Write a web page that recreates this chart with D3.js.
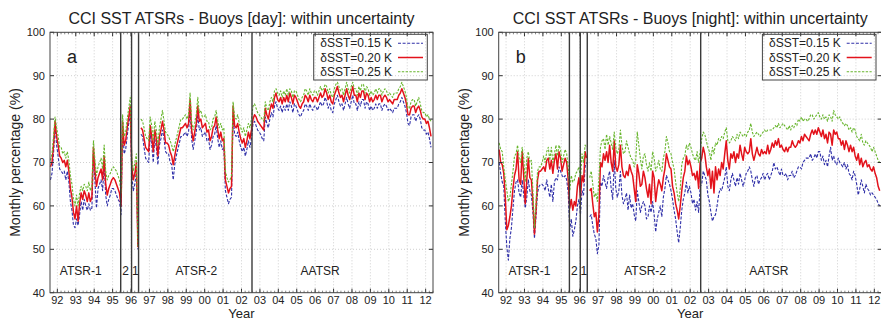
<!DOCTYPE html>
<html>
<head>
<meta charset="utf-8">
<script src="https://cdn.jsdelivr.net/npm/d3@7"></script>
<style>
  body { margin: 0; background: #fff; }
  text { font-family: "Liberation Sans", Arial, sans-serif; fill: #222; }
</style>
</head>
<body>
<svg id="chart" width="881" height="321"></svg>
<script>

// monthly values, first month = Aug 1991, last = Apr 2012, null = no data
var firstYear = 1991;
var firstMonth = 8;

// day, dSST = 0.15 K
var dayLow = [
  66, 67.5, 72, 78.5, 74,
  71.5, 68.5, 68, 67.5, 68, 66, 68, 65.5, 61, 59, 55.5, 55,
  57, 55.5, 58, 61, 59, 61.5, 60, 59, 60.5, 59, 59.5, 72,
  65.5, 59.5, 64, 65, 66, 63.5, 69.5, 62.5, 60, 61.5, 62.5, 64,
  64, 63.5, 62.5, 61.5, 61, 58, 78.5, 72, 73, 76, 79, 81,
  67, 63.5, 65, 68, 50, null, 76.5, 76, 73.5, 71, 70.5, 70,
  76.5, 74, 70, 75.5, 73.5, 69.5, 74, 75.5, 77.5, 75.5, 72.5, 72,
  72, 70, 69.5, 66, 69.5, 71.5, 73, 74.5, 76, 76, 76.5, 77,
  76, 77, 82.5, 75.5, 73, 75, 77, 81, 77.5, 78, 76, 76.5,
  77, 75, 75.5, 73, 74, 76, 76.5, 78.5, 75.5, 73.5, 75, 73,
  73.5, 63.5, 62, 60.5, 61.5, 62, 81, 76.5, 76, 77, 75, 73.5,
  72.5, 73.5, 71.5, 73, 75, 73.5, 75.5, 79, 79.5, 78.5, 77.5, 77,
  76.5, 75.5, 75, 80.5, 79, 78, 80, 81.5, 80.5, 83, 84, 82.5,
  82, 83, 81.5, 83, 82, 83.5, 82, 84, 83, 81.5, 83.5, 83,
  82, 81, 80.5, 81.5, 82, 83.5, 83, 82, 83.5, 82.5, 82, 83,
  83, 82, 83, 84, 83, 83.5, 85, 84, 82.5, 83.5, 82, 81.5,
  83.5, 84.5, 85.5, 84, 83, 83.5, 82, 83.5, 85, 83.5, 82.5, 84,
  85.5, 83.5, 83.5, 82, 84, 83, 84.5, 84.5, 82.5, 84, 83.5, 82,
  83, 82, 82.5, 83.5, 82.5, 83.5, 83.5, 82, 83, 83.5, 83, 82,
  82.5, 82, 81.5, 82.5, 82.5, 82.5, 83.5, 84, 85, 84, 83, 81.5,
  79, 78.5, 80.5, 81, 81, 79.5, 80.5, 81, 80, 78, 77.5, 77.5,
  76.5, 77, 75.5, 73.5
];

// day, dSST = 0.20 K
var dayMid = [
  69, 70, 74, 79.5, 76,
  74, 71.5, 71, 70, 70.5, 69, 70.5, 68, 64, 62, 58.5, 57,
  60, 56.5, 60.5, 63, 61.5, 63.5, 62.5, 61, 63, 61, 62, 73.5,
  68, 64.5, 66.5, 67.5, 68.5, 66, 71.5, 65, 62.5, 64, 65, 66,
  66.5, 66, 65, 64, 63, 60, 79.5, 74, 75, 78, 80.5, 83,
  69, 66, 67.5, 70, 50.5, null, 78, 77.5, 75.5, 73.5, 73, 72.5,
  78.5, 76, 72.5, 77.5, 75.5, 71.5, 76, 77.5, 79.5, 77.5, 74.5, 74.5,
  74, 72.5, 71.5, 69.5, 71.5, 73.5, 75, 76.5, 78, 78, 78.5, 79,
  78, 79, 84.5, 77.5, 75, 77, 79, 83, 79.5, 80, 78, 78.5,
  79, 77, 77.5, 75, 76, 78, 78.5, 80.5, 77.5, 75.5, 77, 75,
  75.5, 66, 64.5, 63, 64, 64.5, 83, 78.5, 78, 79, 77, 75.5,
  74.5, 75.5, 73.5, 75, 77, 75.5, 77.5, 80, 81, 80.5, 79.5, 79,
  78.5, 78, 77.5, 82.5, 81, 80, 82, 83.5, 82.5, 85, 86, 84.5,
  84, 85, 83.5, 85, 84, 85.5, 84, 86, 85, 83.5, 85.5, 85,
  84, 83, 82.5, 83.5, 84, 85.5, 85, 84, 85.5, 84.5, 84, 85,
  85, 84, 85, 86, 85, 85.5, 87, 86, 84.5, 85.5, 84, 83.5,
  85.5, 86.5, 87.5, 86, 85, 85.5, 84, 85.5, 87, 85.5, 84.5, 86,
  87.5, 85.5, 85.5, 84, 86, 85, 86.5, 86.5, 84.5, 86, 85.5, 84,
  85, 84, 84.5, 85.5, 84.5, 85.5, 85.5, 84, 85, 85.5, 85, 84,
  84.5, 84, 83.5, 84.5, 84.5, 84.5, 85.5, 86, 87, 86, 85, 83.5,
  81, 81, 82.5, 83, 83, 81.5, 82.5, 83, 82, 80.5, 80, 80,
  79, 79.5, 78, 76
];

// day, dSST = 0.25 K
var dayHigh = [
  70.5, 72, 76, 80.5, 78,
  76, 73.5, 73.5, 72, 72.5, 71, 72.5, 70.5, 67, 65, 61.5, 60,
  62.5, 60, 63, 64.5, 63.5, 65, 64.5, 63.5, 65.5, 63.5, 64.5, 75,
  70.5, 67, 69, 70, 71, 68.5, 74, 68, 66, 67, 67.5, 68.5,
  69, 68.5, 68, 67, 66, 63, 81, 76, 77, 80, 82.5, 85,
  71, 68, 70, 72, 50.5, null, 80, 79.5, 78, 76, 75.5, 75,
  80.5, 78.5, 75, 79.5, 77.5, 74, 78, 80, 82, 79.5, 77, 76.5,
  76, 75, 74, 72.5, 74, 75.5, 77, 78.5, 80, 80, 80.5, 81,
  80, 81, 86, 79.5, 77.5, 79, 81, 85, 81.5, 82, 80.5, 80.5,
  81, 79.5, 79.5, 77.5, 78, 80, 80.5, 82, 79.5, 78, 79, 77.5,
  78, 68, 66.5, 65.5, 66, 67, 84, 80.5, 80, 81, 79, 78,
  77, 78, 76, 77.5, 79, 78, 80, 83, 83.5, 82.5, 81.5, 81,
  80.5, 80, 79.5, 84, 82.5, 82, 84, 85, 84, 86.5, 87, 86,
  85.5, 86.5, 85, 86.5, 85.5, 87, 85.5, 87, 86.5, 85, 86.5, 86.5,
  85.5, 84.5, 84, 85, 85.5, 87, 86.5, 85.5, 87, 86, 85.5, 86.5,
  86.5, 85.5, 86.5, 87.5, 86.5, 87, 88, 87.5, 86, 87, 85.5, 85,
  87, 88, 88.5, 87.5, 86.5, 87, 85.5, 87, 88.5, 87, 86, 87.5,
  88.5, 87, 87, 85.5, 87.5, 86.5, 88, 88, 86, 87.5, 87, 85.5,
  86.5, 85.5, 86, 87, 86, 87, 87, 85.5, 86.5, 87, 86.5, 85.5,
  86, 85.5, 85, 86, 86, 86, 87, 87.5, 88.5, 87.5, 86.5, 85,
  82.5, 82.5, 84, 84.5, 84.5, 83, 84, 85, 83.5, 82, 81.5, 81.5,
  80.5, 81, 80, 79.5
];

// night, dSST = 0.15 K
var nightLow = [
  70, 67.5, 65.5, 64.5, 56.5,
  50.5, 47.5, 52.5, 55, 59.5, 63.5, 65.5, 66, 63, 62, 66, 62.5,
  59.5, 62, 66, 63.5, 62.5, 58.5, 52.5, 57.5, 63, 64.5, 65, 65,
  64.5, 63.5, 66, 64, 62, 65, 61, 65.5, 66.5, 66, 69, 68,
  67, 66.5, 67, 66, 63, 54.5, 57, 53, 54.5, 56.5, 60, 61.5,
  58, 63.5, 62.5, 69, 70, null, 57.5, 58, 55.5, 53.5, 52.5, 49,
  51, 65.5, 64.5, 67, 65.5, 64, 66.5, 68, 64, 61.5, 70.5, 64,
  62, 63.5, 68, 62.5, 60.5, 61.5, 63, 59, 62.5, 59.5, 60.5, 58,
  56.5, 63.5, 61, 58.5, 60, 61, 60, 57, 57.5, 60, 58.5, 61,
  58, 54, 57, 58.5, 60, 57.5, 62, 64, 67, 66, 65, 63.5,
  61.5, 59, 57, 54, 51.5, 55, 59, 61.5, 63, 65.5, 63, 64.5,
  63, 60.5, 61.5, 59, 61, 58.5, 64.5, 65, 68, 67, 66, 62.5,
  61, 58.5, 56.5, 57.5, 58, 60, 62.5, 64, 63.5, 65, 66.5, 69,
  64.5, 63.5, 66, 67.5, 66, 64.5, 66.5, 65, 67.5, 66, 64.5, 66,
  67.5, 68, 69, 68, 66, 64.5, 66.5, 67, 65, 66, 66.5, 67.5,
  66, 67, 67.5, 66, 67, 68, 70, 68.5, 69, 68, 67, 68.5,
  67, 67, 67.5, 66, 67, 67, 68, 66.5, 67, 68, 69, 69,
  68.5, 70, 70.5, 71, 71, 71, 72, 70.5, 71, 72, 71, 72.5,
  72.5, 70.5, 71.5, 69.5, 70.5, 69, 71.5, 73.5, 70.5, 71.5, 70, 69.5,
  71, 70, 69.5, 69, 70, 68.5, 69.5, 67.5, 67, 66, 68, 67,
  65, 62.5, 64, 66, 64.5, 63, 65, 64, 63.5, 62.5, 63, 62.5,
  62, 61.5, 60.5, 60
];

// night, dSST = 0.20 K
var nightMid = [
  73, 70, 69.5, 67.5, 62,
  54.5, 55.5, 57.5, 60, 64, 67, 68.5, 72.5, 66, 65, 72.5, 67,
  60.5, 66, 71, 66.5, 66, 61, 53.5, 59, 66, 68, 68, 68.5,
  69, 68, 70.5, 71, 68.5, 70.5, 67.5, 70.5, 72, 68.5, 72.5, 71,
  68, 69.5, 71, 70, 66, 59.5, 61.5, 59, 61, 60, 64.5, 66.5,
  62, 67, 65.5, 72.5, 71, null, 63.5, 64, 60.5, 57.5, 58.5, 54,
  58, 70, 69, 72, 70.5, 72.5, 70, 74, 70, 68, 75, 69,
  68, 69.5, 74, 69, 67, 66.5, 68, 67, 69.5, 68, 67, 64,
  61, 69.5, 67.5, 64.5, 65, 68, 66.5, 64, 62, 65, 60.5, 68,
  66.5, 61, 64, 66, 65, 63.5, 66.5, 68.5, 72, 70.5, 69, 68.5,
  64.5, 63, 60.5, 59, 57, 60, 63.5, 66.5, 68, 71.5, 69.5, 70.5,
  69, 67, 67.5, 66, 68, 64, 70, 71, 73.5, 72, 69, 67,
  68.5, 64, 68, 63, 69, 66, 68.5, 67, 70, 68.5, 72, 75,
  70.5, 68.5, 72, 71, 72.5, 70, 72, 71, 74, 72, 70.5, 73.5,
  72.5, 72, 72.5, 75.5, 72, 70.5, 72, 73.5, 72, 71.5, 73, 72,
  72.5, 72, 74, 72, 73, 74.5, 73.5, 75, 74, 75.5, 73.5, 74,
  73, 72.5, 73.5, 72.5, 73.5, 73.5, 75, 74, 73.5, 74, 75, 74.5,
  76, 75, 76.5, 76, 75.5, 75, 76.5, 77.5, 76.5, 77.5, 76.5, 78,
  77, 76, 77.5, 75.5, 76.5, 74.5, 77, 76.5, 74, 77.5, 76.5, 77,
  75.5, 75.5, 74, 75, 73, 75, 74, 72.5, 74, 72.5, 73.5, 71.5,
  70.5, 72, 69.5, 71, 69, 70, 70.5, 69, 69.5, 68.5, 68, 69,
  67.5, 66.5, 64.5, 63.5
];

// night, dSST = 0.25 K
var nightHigh = [
  74.5, 73, 72.5, 69, 66,
  63.5, 61, 62, 65, 68, 71.5, 72, 74, 71, 70, 73.5, 71,
  65.5, 71, 72.5, 70, 70.5, 63.5, 55, 60.5, 68, 69, 69, 70,
  71.5, 70, 72.5, 73.5, 70.5, 73.5, 70, 72, 74, 71.5, 74, 73,
  70, 71.5, 73, 72, 69, 63.5, 67, 65.5, 66, 67.5, 68, 69,
  66, 72, 70, 74, 73.5, null, 66.5, 68, 65, 62, 63, 61,
  66, 73.5, 75, 75.5, 73, 76.5, 74, 76, 74.5, 73, 77, 73.5,
  72, 73, 77.5, 74, 72, 72.5, 75, 73.5, 72, 71, 70.5, 69,
  70.5, 77, 74, 71, 68.5, 71.5, 72, 69.5, 68, 70, 68, 72.5,
  71, 68, 69, 70.5, 68.5, 68, 71, 72.5, 76, 74.5, 72.5, 72,
  70, 68.5, 65.5, 63, 61, 64, 69.5, 71, 71.5, 74, 73, 74.5,
  73.5, 72, 71, 70.5, 72.5, 70, 72.5, 75.5, 77, 76.5, 75, 73.5,
  72.5, 70.5, 73.5, 72, 74.5, 74, 75.5, 75, 76, 75.5, 77, 78,
  75, 74.5, 75, 76, 75.5, 75, 76.5, 75.5, 77, 76.5, 76, 76.5,
  76, 77, 77.5, 79, 77, 76, 76.5, 77, 76.5, 76, 76.5, 77,
  77.5, 77, 77.5, 77.5, 77.5, 77.5, 78, 78.5, 78, 79, 78, 78.5,
  79, 78.5, 78, 77.5, 78.5, 77.5, 78.5, 78, 79, 78.5, 80, 79.5,
  80.5, 79.5, 80, 80, 79.5, 80, 81, 81, 80, 80.5, 81, 81.5,
  80.5, 80, 81, 80, 80.5, 79.5, 81, 80.5, 79.5, 82, 81, 80.5,
  80, 80.5, 79.5, 79, 78.5, 79, 78.5, 77.5, 78, 77, 78, 77.5,
  76, 75.5, 75, 76.5, 74.5, 74, 75, 74.5, 74, 73.5, 72.5, 73.5,
  72.5, 71.5, 70.5, 70
];

var seriesLabels = ["\u03B4SST=0.15 K", "\u03B4SST=0.20 K", "\u03B4SST=0.25 K"];
var seriesColors = ["#2f2fa8", "#e3121b", "#68b62e"];
var seriesDash = ["3,1.6", null, "2.4,1.4"];
var seriesWidth = [1.1, 1.5, 1.1];

var sensorBreaks = [1995.44, 1996.03, 1996.41, 2002.57];
var sensorNames = ["ATSR-1", "2", "1", "ATSR-2", "AATSR"];
var sensorNamePos = [1993.27, 1995.71, 1996.23, 1999.55, 2006.27];

var yearTicks = [1992, 1993, 1994, 1995, 1996, 1997, 1998, 1999, 2000, 2001, 2002,
                 2003, 2004, 2005, 2006, 2007, 2008, 2009, 2010, 2011, 2012];
var pctTicks = [40, 50, 60, 70, 80, 90, 100];

var width = 383;
var height = 260.4;
var top_ = 32.3;

var svg = d3.select('#chart');

var x = d3.scaleLinear().domain([1991.6, 2012.4]).range([0, width]);
var y = d3.scaleLinear().domain([40, 100]).range([height, 0]);

function toPoints(values){
  return values.map(function(v, i){
    var m = firstMonth - 1 + i;
    return { t: firstYear + (m + 0.5) / 12, v: v };
  });
}

function drawPanel(left, title, letter, series){

  var g = svg.append('g').attr('transform', 'translate(' + left + ',' + top_ + ')');

  // grid
  g.append('g').selectAll('line').data(yearTicks).join('line')
    .attr('x1', d => x(d)).attr('x2', d => x(d))
    .attr('y1', 0).attr('y2', height)
    .attr('stroke', '#c4c4c4').attr('stroke-width', 0.8)
    .attr('stroke-dasharray', '1,2');
  g.append('g').selectAll('line').data(pctTicks.slice(1, -1)).join('line')
    .attr('x1', 0).attr('x2', width)
    .attr('y1', d => y(d)).attr('y2', d => y(d))
    .attr('stroke', '#c4c4c4').attr('stroke-width', 0.8)
    .attr('stroke-dasharray', '1,2');

  // series
  var line = d3.line()
    .defined(d => d.v != null)
    .x(d => x(d.t))
    .y(d => y(d.v));

  series.forEach(function(vals, k){
    g.append('path')
      .datum(toPoints(vals))
      .attr('d', line)
      .attr('fill', 'none')
      .attr('stroke', seriesColors[k])
      .attr('stroke-width', seriesWidth[k])
      .attr('stroke-dasharray', seriesDash[k])
      .attr('stroke-linejoin', 'round');
  });

  // sensor changes
  g.append('g').selectAll('line').data(sensorBreaks).join('line')
    .attr('x1', d => x(d)).attr('x2', d => x(d))
    .attr('y1', 0).attr('y2', height)
    .attr('stroke', '#3a3a3a').attr('stroke-width', 1.4);

  g.append('g').selectAll('text').data(sensorNames).join('text')
    .attr('x', (d, i) => x(sensorNamePos[i]))
    .attr('y', height - 17.5)
    .attr('text-anchor', 'middle')
    .style('font-size', '12px')
    .text(d => d);

  // axes (gnuplot style: ticks inside, mirrored)
  var minor = d3.range(1991.6, 2012.4, 0.2).filter(t => t > 1991.65);
  var ax = g.append('g');
  ax.selectAll('line.xt').data(yearTicks).join('line').attr('class', 'xt')
    .attr('x1', d => x(d)).attr('x2', d => x(d)).attr('y1', height).attr('y2', height - 4)
    .attr('stroke', '#333');
  ax.selectAll('line.xt2').data(yearTicks).join('line').attr('class', 'xt2')
    .attr('x1', d => x(d)).attr('x2', d => x(d)).attr('y1', 0).attr('y2', 4)
    .attr('stroke', '#333');
  ax.selectAll('line.xm').data(minor).join('line').attr('class', 'xm')
    .attr('x1', d => x(d)).attr('x2', d => x(d)).attr('y1', height).attr('y2', height - 2)
    .attr('stroke', '#555').attr('stroke-width', 0.7);
  ax.selectAll('line.xm2').data(minor).join('line').attr('class', 'xm2')
    .attr('x1', d => x(d)).attr('x2', d => x(d)).attr('y1', 0).attr('y2', 2)
    .attr('stroke', '#555').attr('stroke-width', 0.7);
  ax.selectAll('line.yt').data(pctTicks).join('line').attr('class', 'yt')
    .attr('x1', 0).attr('x2', 4).attr('y1', d => y(d)).attr('y2', d => y(d))
    .attr('stroke', '#333');
  ax.selectAll('line.yt2').data(pctTicks).join('line').attr('class', 'yt2')
    .attr('x1', width).attr('x2', width - 4).attr('y1', d => y(d)).attr('y2', d => y(d))
    .attr('stroke', '#333');

  g.append('rect')
    .attr('width', width).attr('height', height)
    .attr('fill', 'none').attr('stroke', '#444').attr('stroke-width', 1);

  g.append('g').selectAll('text').data(yearTicks).join('text')
    .attr('x', d => x(d)).attr('y', height + 11.8)
    .attr('text-anchor', 'middle')
    .style('font-size', '11px')
    .text(d => String(d).slice(2));

  g.append('g').selectAll('text').data(pctTicks).join('text')
    .attr('x', -5).attr('y', d => y(d)).attr('dy', '0.35em')
    .attr('text-anchor', 'end')
    .style('font-size', '11px')
    .text(d => d);

  g.append('text')
    .attr('x', width / 2).attr('y', height + 25.4)
    .attr('text-anchor', 'middle')
    .style('font-size', '13px')
    .text('Year');

  g.append('text')
    .attr('transform', 'translate(-30,' + (height / 2) + ') rotate(-90)')
    .attr('text-anchor', 'middle')
    .style('font-size', '14px')
    .text('Monthly percentage (%)');

  g.append('text')
    .attr('x', width / 2).attr('y', -8.5)
    .attr('text-anchor', 'middle')
    .style('font-size', '16px')
    .text(title);

  g.append('text')
    .attr('x', 17).attr('y', 31)
    .style('font-size', '18px')
    .text(letter);

  // legend
  var lg = g.append('g').attr('transform', 'translate(263.7,2)');
  lg.append('rect')
    .attr('width', 113.6).attr('height', 45.7)
    .attr('fill', 'none').attr('stroke', '#444').attr('stroke-width', 1);
  seriesLabels.forEach(function(lab, k){
    var yy = 9 + k * 14.2;
    lg.append('text')
      .attr('x', 78.3).attr('y', yy).attr('dy', '0.35em')
      .attr('text-anchor', 'end')
      .style('font-size', '12px')
      .text(lab);
    lg.append('line')
      .attr('x1', 84.3).attr('x2', 109.3)
      .attr('y1', yy).attr('y2', yy)
      .attr('stroke', seriesColors[k])
      .attr('stroke-width', seriesWidth[k])
      .attr('stroke-dasharray', seriesDash[k]);
  });
}

drawPanel(50, 'CCI SST ATSRs - Buoys [day]: within uncertainty', 'a', [dayLow, dayMid, dayHigh]);
drawPanel(498.7, 'CCI SST ATSRs - Buoys [night]: within uncertainty', 'b', [nightLow, nightMid, nightHigh]);

</script>
</body>
</html>
